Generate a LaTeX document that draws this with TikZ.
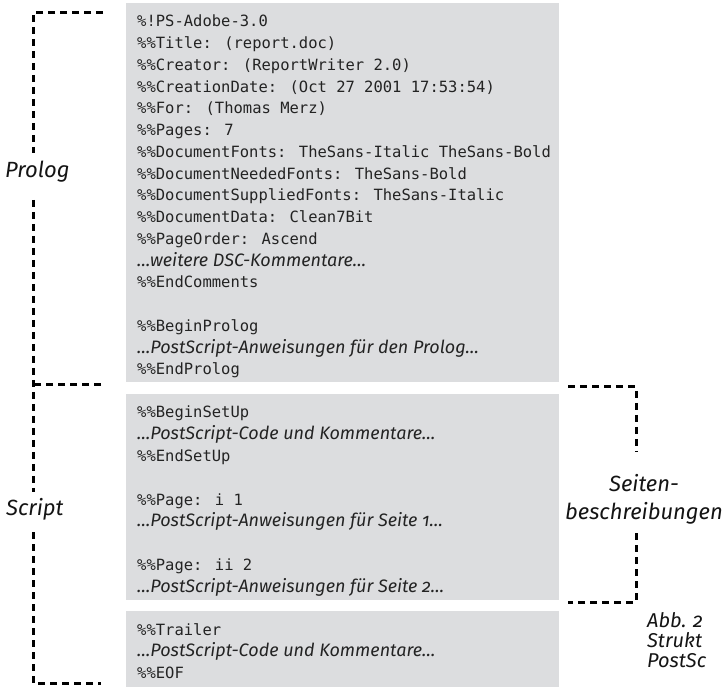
\documentclass[tikz,border=0pt]{standalone}
\usepackage{fontspec}
\newfontfamily\monof{DejaVu Sans Mono}
\newfontfamily\itf{Fira Sans}[Numbers=OldStyle]
\definecolor{boxgray}{RGB}{220,221,223}
\definecolor{txt}{RGB}{35,35,35}
\definecolor{labc}{RGB}{20,20,20}
\tikzset{
  codebox/.style={fill=boxgray, draw=none, inner sep=0pt, anchor=north west},
  code/.style={anchor=base west, inner sep=0pt, text=txt, font=\monof\fontsize{15.5}{20}\selectfont},
  comm/.style={anchor=base west, inner sep=0pt, text=txt, font=\itf\itshape\fontsize{18}{20}\selectfont},
  lab/.style={anchor=base west, inner sep=0pt, text=labc, font=\itf\itshape\fontsize{22}{24}\selectfont},
  dashline/.style={draw=black, line width=3pt, dash pattern=on 7pt off 5pt}
}
\begin{document}
\begin{tikzpicture}[x=1pt,y=-1pt]
\useasboundingbox (0,0) rectangle (724,687);
% boxes
\node[codebox, minimum width=433pt, minimum height=379pt] (bprolog) at (126,3) {};
\node[codebox, minimum width=433pt, minimum height=206pt] (bscript) at (126,394) {};
\node[codebox, minimum width=433pt, minimum height=76pt] (btrailer) at (126,611) {};
% prolog text
\node[code] (p1) at (137,27) {\%!PS-Adobe-3.0};
\node[code] (p2) at (137,48.75) {\%\%Title: (report.doc)};
\node[code] (p3) at (137,70.5) {\%\%Creator: (ReportWriter 2.0)};
\node[code] (p4) at (137,92.25) {\%\%CreationDate: (Oct 27 2001 17:53:54)};
\node[code] (p5) at (137,114) {\%\%For: (Thomas Merz)};
\node[code] (p6) at (137,135.75) {\%\%Pages: 7};
\node[code] (p7) at (137,157.5) {\%\%DocumentFonts: TheSans-Italic TheSans-Bold};
\node[code] (p8) at (137,179.25) {\%\%DocumentNeededFonts: TheSans-Bold};
\node[code] (p9) at (137,201) {\%\%DocumentSuppliedFonts: TheSans-Italic};
\node[code] (p10) at (137,222.75) {\%\%DocumentData: Clean7Bit};
\node[code] (p11) at (137,244.5) {\%\%PageOrder: Ascend};
\node[comm] (p12) at (137,266.25) {…weitere DSC-Kommentare…};
\node[code] (p13) at (137,288) {\%\%EndComments};
\node[code] (p15) at (137,331.5) {\%\%BeginProlog};
\node[comm] (p16) at (137,353.25) {…PostScript-Anweisungen für den Prolog…};
\node[code] (p17) at (137,375) {\%\%EndProlog};
% script text
\node[code] (s1) at (137,418) {\%\%BeginSetUp};
\node[comm] (s2) at (137,439.75) {…PostScript-Code und Kommentare…};
\node[code] (s3) at (137,461.5) {\%\%EndSetUp};
\node[code] (s5) at (137,505) {\%\%Page: i 1};
\node[comm] (s6) at (137,526.75) {…PostScript-Anweisungen für Seite 1…};
\node[code] (s8) at (137,570.25) {\%\%Page: ii 2};
\node[comm] (s9) at (137,592) {…PostScript-Anweisungen für Seite 2…};
% trailer text
\node[code] (t1) at (137,635) {\%\%Trailer};
\node[comm] (t2) at (137,656.75) {…PostScript-Code und Kommentare…};
\node[code] (t3) at (137,678.5) {\%\%EOF};
% labels
\node[lab] (lprolog) at (5,178) {Prolog};
\node[lab] (lscript) at (6,515) {Script};
\node[lab, anchor=base] (lseiten1) at (644,492) {Seiten-};
\node[lab, anchor=base] (lseiten2) at (644,519) {beschreibungen};
\node[lab, align=left, anchor=north west, font=\itf\itshape\fontsize{20}{20}\selectfont] (abb) at (647,612) {Abb. 2\\Strukt\\PostSc};
% brackets
\coordinate (a1) at (103,13);
\coordinate (a2) at (33,13);
\coordinate (a3) at (33,153);
\coordinate (a4) at (33,200);
\coordinate (a5) at (33,492);
\coordinate (a6) at (33,532);
\coordinate (a7) at (33,683);
\coordinate (a8) at (101,683);
\coordinate (b1) at (101,385);
\coordinate (b2) at (33,385);
\draw[dashline] (a1) -- (a2) -- (a3);
\draw[dashline] (a4) -- (a5);
\draw[dashline] (b1) -- (b2);
\draw[dashline] (a6) -- (a7) -- (a8);
\coordinate (c1) at (568,387);
\coordinate (c2) at (636,387);
\coordinate (c3) at (636,452);
\coordinate (c4) at (636,533);
\coordinate (c5) at (636,602);
\coordinate (c6) at (568,602);
\draw[dashline] (c1) -- (c2) -- (c3);
\draw[dashline] (c4) -- (c5) -- (c6);
\end{tikzpicture}
\end{document}
